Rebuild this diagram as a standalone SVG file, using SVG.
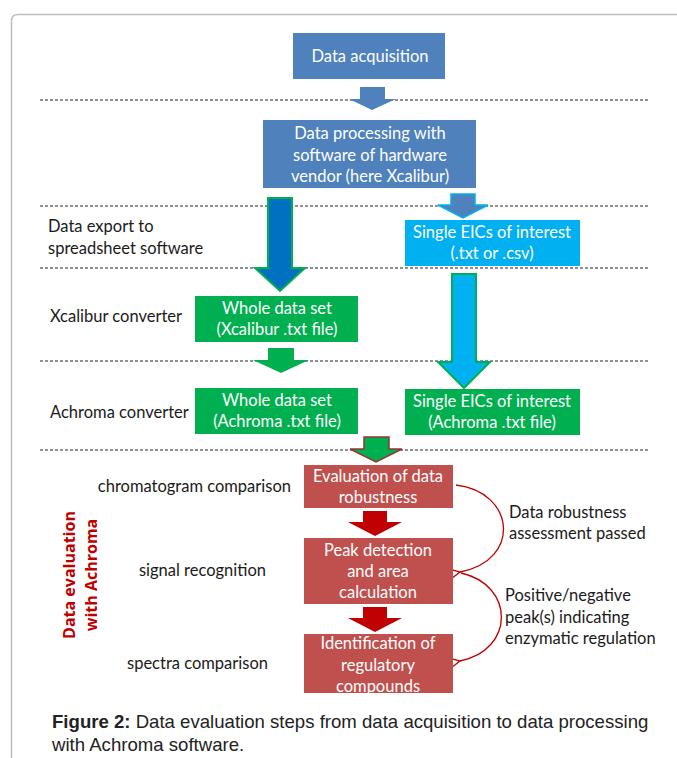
<svg xmlns="http://www.w3.org/2000/svg" width="677" height="758" viewBox="0 0 677 758">
<defs>
<style>
.lbl{font-family:Lato,"Open Sans",sans-serif;font-size:16.5px;fill:#1a1a1a}
.bx{font-family:Lato,"Open Sans",sans-serif;font-size:16.5px;fill:#ffffff;text-anchor:middle}
.dash{stroke:#222;stroke-width:1;stroke-dasharray:3,2;fill:none}
.cap{font-family:"Liberation Sans",Arial,sans-serif;font-size:18.6px;fill:#222}
.curve{fill:none;stroke:#C00000;stroke-width:1.3}
</style>
<marker id="open" viewBox="0 0 10 10" refX="1" refY="5" markerWidth="10" markerHeight="10" markerUnits="userSpaceOnUse" orient="auto-start-reverse">
<path d="M9,1 L1,5 L9,9" fill="none" stroke="#C00000" stroke-width="1.3"/>
</marker>
</defs>
<rect width="677" height="758" fill="#ffffff"/>
<path d="M11.5,770 L11.5,21 Q11.5,14.5 18,14.5 L690,14.5" fill="none" stroke="#bdbdbd" stroke-width="1.5"/>

<g id="separators">
<line class="dash" x1="40" y1="100" x2="650" y2="100"/>
<line class="dash" x1="40" y1="206" x2="650" y2="206"/>
<line class="dash" x1="40" y1="268" x2="650" y2="268"/>
<line class="dash" x1="40" y1="361" x2="650" y2="361"/>
<line class="dash" x1="40" y1="450" x2="650" y2="450"/>
</g>

<g id="connectors">
<polygon points="360,87 385,87 385,99 396,99 372,110 349,99 360,99" fill="#4F81BD"/>
<polygon points="268,198 292,198 292,268 305,268 280,291 255,268 268,268" fill="#0070C0" stroke="#00B050" stroke-width="2"/>
<polygon points="451,194 475,194 475,205 488,205 463,218 438,205 451,205" fill="#4F81BD" stroke="#00B0F0" stroke-width="1.5"/>
<polygon points="452,274 476,274 476,362 490,362 464,388 438,362 452,362" fill="#00B0F0" stroke="#00B050" stroke-width="2"/>
<polygon points="268,348 294,348 294,360 309,360 281,373 253,360 268,360" fill="#00B050"/>
<polygon points="364,437 389,437 389,449 402,449 376,462 350,449 364,449" fill="#00B050" stroke="#943634" stroke-width="1.5"/>
<polygon points="363,511 387,511 387,522 402,522 375,536 348,522 363,522" fill="#C00000"/>
<polygon points="363,607 387,607 387,618 402,618 375,632 348,618 363,618" fill="#C00000"/>
<path class="curve" d="M456,485 C515,492 522,560 460,572" marker-end="url(#open)"/>
<path class="curve" d="M461,573 C515,585 515,650 460,661" marker-end="url(#open)"/>
</g>

<g id="n-acq"><rect x="293" y="33" width="152" height="46" fill="#4F81BD"/><text class="bx" x="370" y="62">Data acquisition</text></g>
<g id="n-proc"><rect x="263" y="120" width="213" height="68" fill="#4F81BD"/>
<text class="bx" x="370" y="139">Data processing with</text>
<text class="bx" x="370" y="161">software of hardware</text>
<text class="bx" x="370" y="182">vendor (here Xcalibur)</text></g>
<g id="n-eic1"><rect x="405" y="220" width="175" height="46" fill="#00B0F0"/>
<text class="bx" x="492" y="238">Single EICs of interest</text>
<text class="bx" x="492" y="259">(.txt or .csv)</text></g>
<g id="n-whole1"><rect x="195" y="296" width="163" height="46" fill="#00B050"/>
<text class="bx" x="277" y="314">Whole data set</text>
<text class="bx" x="277" y="335">(Xcalibur .txt file)</text></g>
<g id="n-whole2"><rect x="195" y="388" width="163" height="46" fill="#00B050"/>
<text class="bx" x="277" y="406">Whole data set</text>
<text class="bx" x="277" y="427">(Achroma .txt file)</text></g>
<g id="n-eic2"><rect x="405" y="389" width="175" height="46" fill="#00B050"/>
<text class="bx" x="492" y="407">Single EICs of interest</text>
<text class="bx" x="492" y="428">(Achroma .txt file)</text></g>
<g id="n-eval"><rect x="304" y="465" width="149" height="43" fill="#C0504D"/>
<text class="bx" x="378" y="482">Evaluation of data</text>
<text class="bx" x="378" y="503">robustness</text></g>
<g id="n-peak"><rect x="304" y="538" width="149" height="66" fill="#C0504D"/>
<text class="bx" x="378" y="556">Peak detection</text>
<text class="bx" x="378" y="577">and area</text>
<text class="bx" x="378" y="598">calculation</text></g>
<g id="n-ident"><rect x="304" y="634" width="149" height="59" fill="#C0504D"/>
<text class="bx" x="378" y="649">Identification of</text>
<text class="bx" x="378" y="671">regulatory</text>
<text class="bx" x="378" y="692">compounds</text></g>

<g id="labels">
<text class="lbl" x="48" y="232">Data export to</text>
<text class="lbl" x="48" y="254">spreadsheet software</text>
<text class="lbl" x="50" y="322">Xcalibur converter</text>
<text class="lbl" x="50" y="418">Achroma converter</text>
<text class="lbl" x="291" y="492" text-anchor="end">chromatogram comparison</text>
<text class="lbl" x="266" y="576" text-anchor="end">signal recognition</text>
<text class="lbl" x="268" y="669" text-anchor="end">spectra comparison</text>
<text class="lbl" x="509" y="518">Data robustness</text>
<text class="lbl" x="509" y="539">assessment passed</text>
<text class="lbl" x="505" y="601">Positive/negative</text>
<text class="lbl" x="505" y="623">peak(s) indicating</text>
<text class="lbl" x="505" y="644">enzymatic regulation</text>
<g transform="translate(75,575) rotate(-90)"><text x="0" y="0" text-anchor="middle" font-family="'Open Sans',sans-serif" font-weight="bold" font-size="16" fill="#C00000">Data evaluation</text></g>
<g transform="translate(97,575) rotate(-90)"><text x="0" y="0" text-anchor="middle" font-family="'Open Sans',sans-serif" font-weight="bold" font-size="16" fill="#C00000">with Achroma</text></g>
</g>

<g id="caption">
<text class="cap" x="52" y="728"><tspan font-weight="bold">Figure 2:</tspan> Data evaluation steps from data acquisition to data processing</text>
<text class="cap" x="52" y="751">with Achroma software.</text>
</g>
</svg>
